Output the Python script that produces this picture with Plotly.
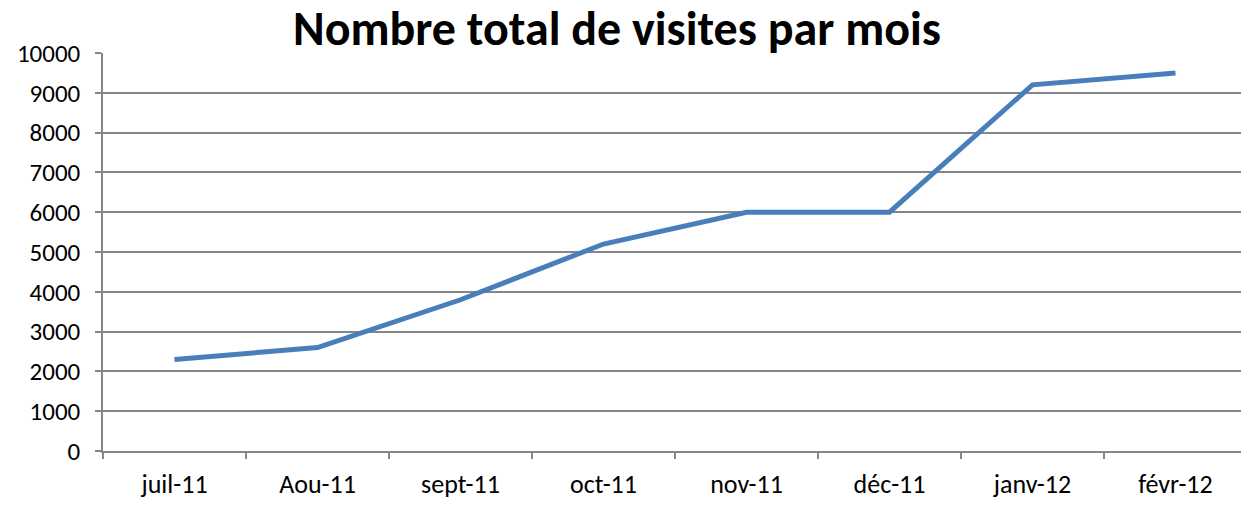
import plotly.graph_objects as go

months = ["juil-11", "Aou-11", "sept-11", "oct-11", "nov-11", "déc-11", "janv-12", "févr-12"]
visites = [2300, 2600, 3800, 5200, 6000, 6000, 9200, 9500]
y_ticks = list(range(0, 10001, 1000))
y_labels = [str(v) for v in y_ticks]

fig = go.Figure()
fig.add_trace(go.Scatter(
    x=months, y=visites, mode="lines",
    line=dict(color="#4a7ebb", width=5),
    showlegend=False,
))

font_family = "Carlito, Lato, 'Open Sans', sans-serif"
W, H = 1241, 497
fig.update_layout(
    width=W, height=H,
    margin=dict(l=95, r=2, t=45, b=54),
    paper_bgcolor="white", plot_bgcolor="white",
    title=dict(text="<b>Nombre total de visites par mois</b>", x=(617 - 8) / W, xanchor="center",
               xref="container", yref="container",
               y=1 - (28 - 8) / H, yanchor="middle",
               font=dict(family=font_family, size=48, color="black")),
    font=dict(family=font_family, size=25, color="black"),
)
fig.update_xaxes(
    type="category", tickson="boundaries", ticks="outside", ticklen=6,
    tickcolor="#868686", tickwidth=1.5,
    showline=True, linecolor="#868686", linewidth=1.5,
    showgrid=False, range=[-0.5, 7.5],
    tickfont=dict(size=26), ticklabelstandoff=9,
)
fig.update_yaxes(
    range=[0, 10000], tickvals=y_ticks, ticktext=y_labels, ticks="outside", ticklen=6,
    tickcolor="#868686", tickwidth=1.5,
    showline=True, linecolor="#868686", linewidth=1.5,
    showgrid=True, gridcolor="#868686", gridwidth=1.5,
    zeroline=False, tickfont=dict(size=25), ticklabelstandoff=10,
)

fig.write_html("out.html")
